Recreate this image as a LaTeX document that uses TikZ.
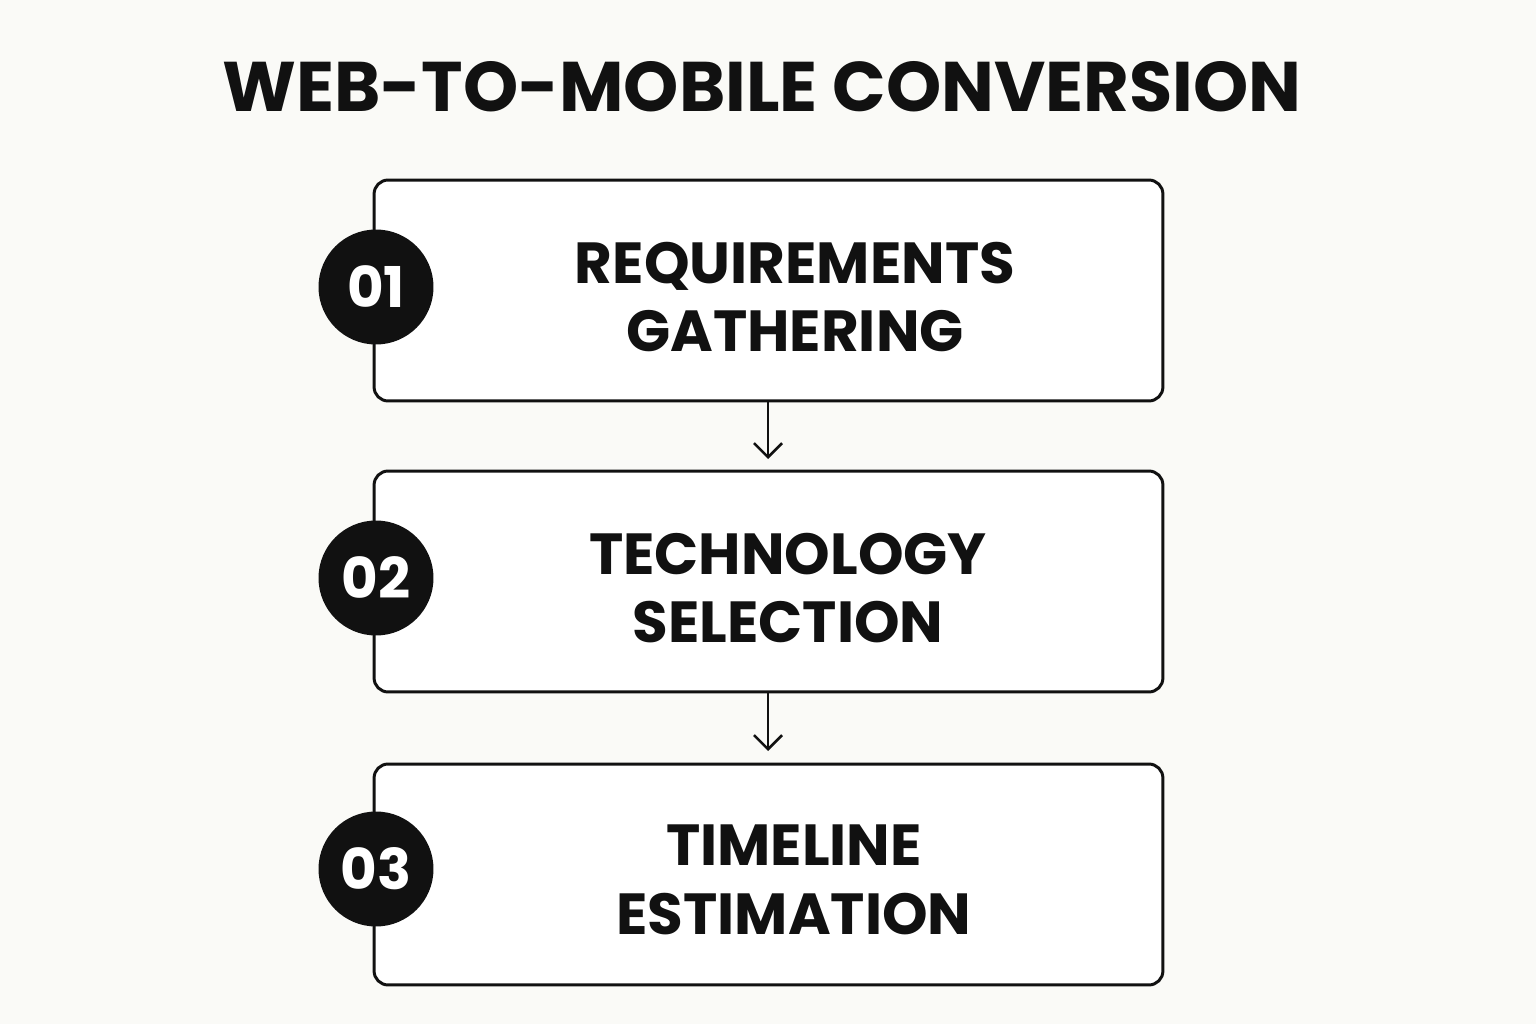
\documentclass[tikz,border=0pt]{standalone}
\usepackage{fontspec}
\setmainfont{Poppins}
\usetikzlibrary{arrows.meta}
\definecolor{bg}{HTML}{FAFAF7}
\definecolor{ink}{HTML}{111111}
\begin{document}
\begin{tikzpicture}[x=0.02cm,y=-0.02cm,
  stepbox/.style={draw=ink,line width=1.7pt,rounded corners=8pt,fill=white,minimum width=15.78cm,minimum height=4.42cm,inner sep=0},
  num/.style={circle,fill=ink,minimum size=2.3cm,inner sep=0,text=white,font=\fontsize{32}{36}\selectfont\bfseries},
  lbl/.style={align=center,text=ink,font=\fontsize{33}{39}\selectfont\bfseries},
  conn/.style={draw=ink,line width=1.5pt,-{Straight Barb[length=8pt,width=16pt]}}]
\fill[bg] (0,0) rectangle (1536,1024);
\useasboundingbox (0,0) rectangle (1536,1024);
\node[text=ink,font=\fontsize{40}{48}\selectfont\bfseries] (title) at (762,87) {WEB-TO-MOBILE CONVERSION};
\node[stepbox] (b1) at (768.5,290.5) {};
\node[stepbox] (b2) at (768.5,581.5) {};
\node[stepbox] (b3) at (768.5,874.5) {};
\node[num] (n1) at (376,287) {01};
\node[num] (n2) at (376,578) {02};
\node[num] (n3) at (376,869) {03};
\node[lbl] (t1) at (795,297) {REQUIREMENTS\\GATHERING};
\node[lbl] (t2) at (788,588) {TECHNOLOGY\\SELECTION};
\node[lbl] (t3) at (794,880) {TIMELINE\\ESTIMATION};
\draw[conn] (b1.south -| 768,0) -- (768,459);
\draw[conn] (b2.south -| 768,0) -- (768,751);
\end{tikzpicture}
\end{document}
